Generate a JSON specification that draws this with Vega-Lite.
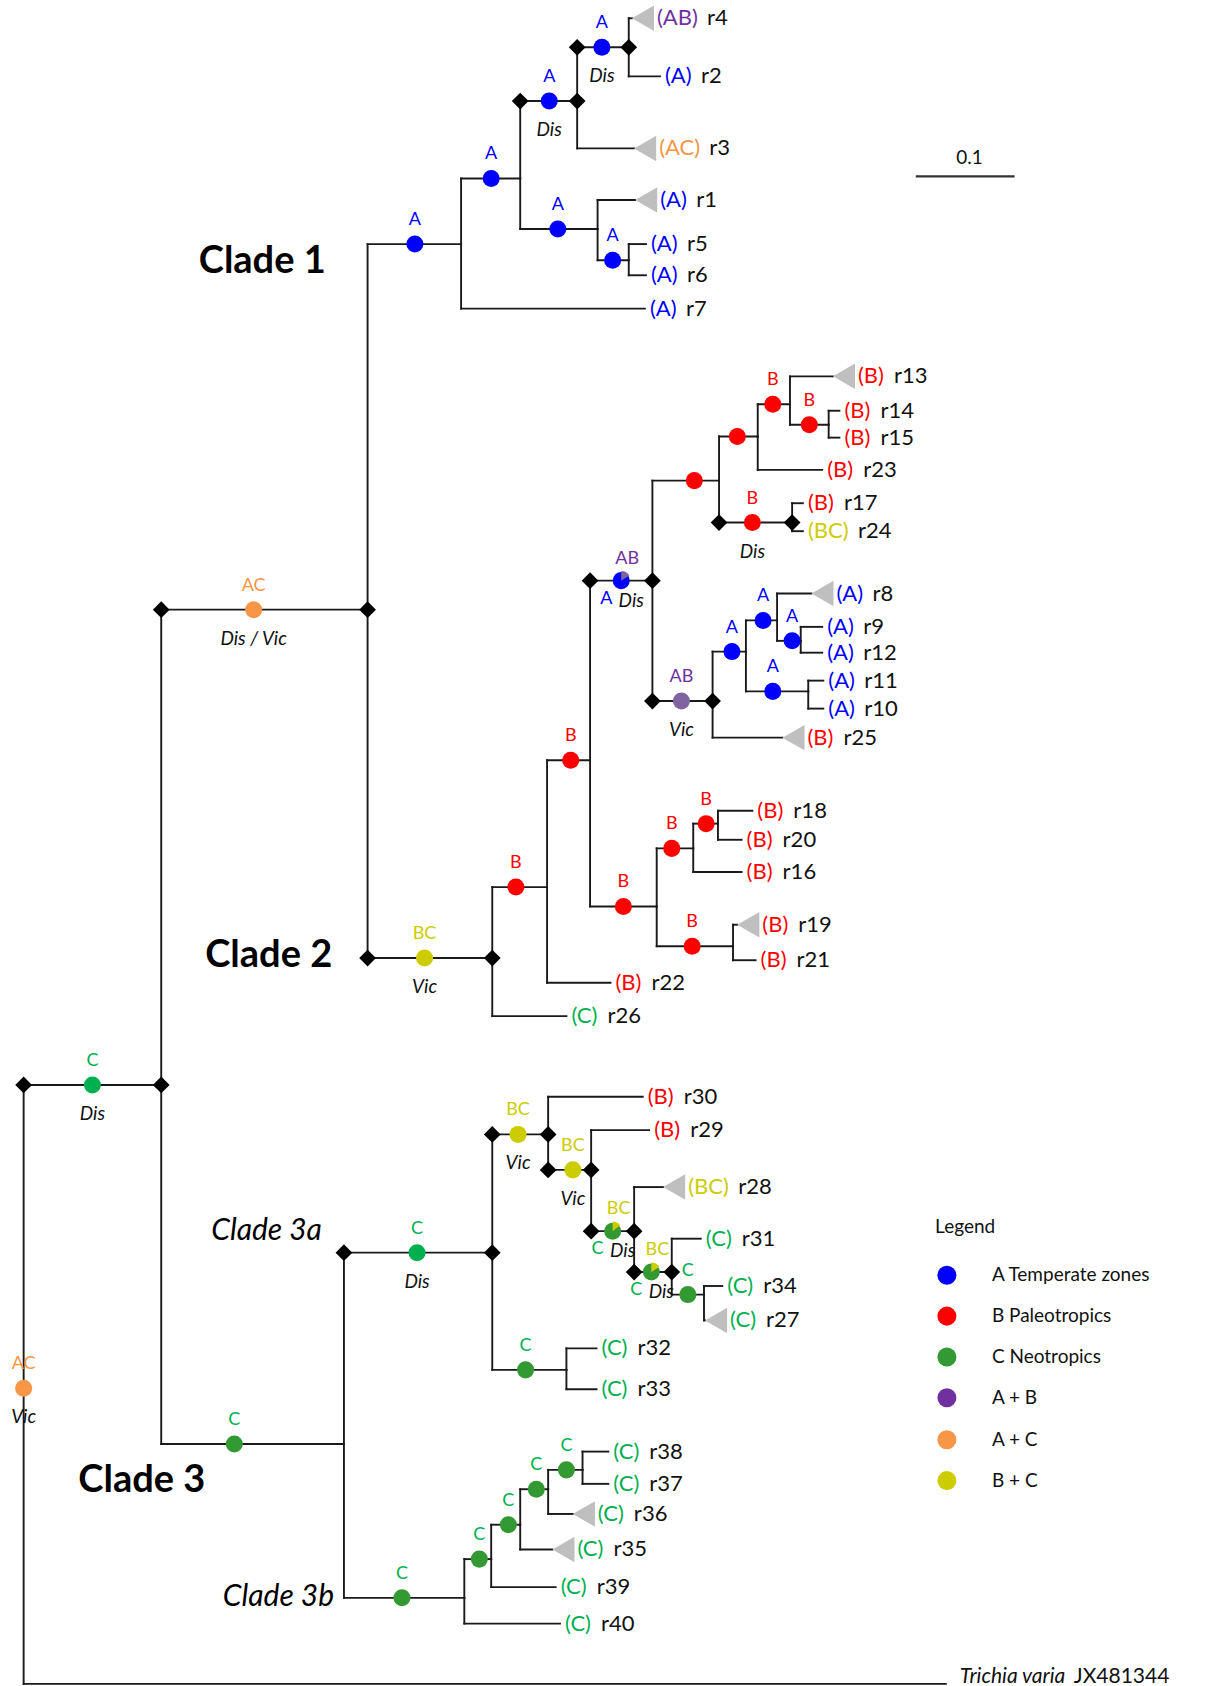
{
"$schema":"https://vega.github.io/schema/vega-lite/v6.json",
"width":1207,"height":1686,"padding":0,"autosize":{"type":"none"},
"config":{"font":"Lato","view":{"stroke":null}},
"datasets":{
"nodes":[
{"id":"root","x":22,"y":1291,"cx":22,"st":"AC","lab":"AC","ev":"Vic"},
{"id":"out","p":"root","x":880,"y":1566,"sp":"Trichia varia","acc":"JX481344"},
{"id":"ing","p":"root","x":150,"y":1009,"cx":86,"st":"C","lab":"C","ev":"Dis"},
{"id":"c12","p":"ing","x":342,"y":567,"cx":236,"st":"AC","lab":"AC","ev":"Dis / Vic"},
{"id":"c1","p":"c12","x":429,"y":227,"cx":386,"st":"A","lab":"A"},
{"id":"n1a","p":"c1","x":484,"y":166,"cx":457,"st":"A","lab":"A"},
{"id":"n1b","p":"n1a","x":537,"y":94,"cx":511,"st":"A","lab":"A","ev":"Dis"},
{"id":"n1c","p":"n1b","x":585,"y":44,"cx":560,"st":"A","lab":"A","ev":"Dis"},
{"id":"r4","p":"n1c","x":588,"y":17,"tag":"(AB)","name":"r4","tri":true},
{"id":"r2","p":"n1c","x":614,"y":71,"tag":"(A)","name":"r2"},
{"id":"r3","p":"n1b","x":590,"y":138,"tag":"(AC)","name":"r3","tri":true},
{"id":"n1d","p":"n1a","x":556,"y":213,"cx":519,"st":"A","lab":"A"},
{"id":"r1","p":"n1d","x":591,"y":186,"tag":"(A)","name":"r1","tri":true},
{"id":"n1e","p":"n1d","x":585,"y":242,"cx":570,"st":"A","lab":"A"},
{"id":"r5","p":"n1e","x":601,"y":227,"tag":"(A)","name":"r5"},
{"id":"r6","p":"n1e","x":601,"y":256,"tag":"(A)","name":"r6"},
{"id":"r7","p":"c1","x":600,"y":287,"tag":"(A)","name":"r7"},
{"id":"c2","p":"c12","x":458,"y":891,"cx":395,"st":"BC","lab":"BC","ev":"Vic"},
{"id":"r26","p":"c2","x":527,"y":945,"tag":"(C)","name":"r26"},
{"id":"n2a","p":"c2","x":509,"y":825,"cx":480,"st":"B","lab":"B"},
{"id":"r22","p":"n2a","x":568,"y":914,"tag":"(B)","name":"r22"},
{"id":"n2b","p":"n2a","x":549,"y":707,"cx":531,"st":"B","lab":"B"},
{"id":"n2c","p":"n2b","x":607,"y":540,"cx":578,"st":"A","lab":"AB","lab2":"A","ev":"Dis","pie":true},
{"id":"n2d","p":"n2c","x":669,"y":447,"cx":646,"st":"B"},
{"id":"n2e","p":"n2d","x":705,"y":406,"cx":686,"st":"B"},
{"id":"n2f","p":"n2e","x":735,"y":376,"cx":719,"st":"B","lab":"B"},
{"id":"r13","p":"n2f","x":775,"y":350,"tag":"(B)","name":"r13","tri":true},
{"id":"n2g","p":"n2f","x":771,"y":395,"cx":753,"st":"B","lab":"B"},
{"id":"r14","p":"n2g","x":781,"y":382,"tag":"(B)","name":"r14"},
{"id":"r15","p":"n2g","x":781,"y":407,"tag":"(B)","name":"r15"},
{"id":"r23","p":"n2e","x":765,"y":437,"tag":"(B)","name":"r23"},
{"id":"n2h","p":"n2d","x":737,"y":486,"cx":700,"st":"B","lab":"B","ev":"Dis"},
{"id":"r17","p":"n2h","x":747,"y":468,"tag":"(B)","name":"r17"},
{"id":"r24","p":"n2h","x":747,"y":494,"tag":"(BC)","name":"r24"},
{"id":"n2i","p":"n2c","x":663,"y":652,"cx":634,"st":"ABl","lab":"AB","ev":"Vic"},
{"id":"n2j","p":"n2i","x":694,"y":606,"cx":681,"st":"A","lab":"A"},
{"id":"n2k","p":"n2j","x":723,"y":577,"cx":710,"st":"A","lab":"A"},
{"id":"r8","p":"n2k","x":755,"y":552,"tag":"(A)","name":"r8","tri":true},
{"id":"n2l","p":"n2k","x":745,"y":596,"cx":737,"st":"A","lab":"A"},
{"id":"r9","p":"n2l","x":765,"y":583,"tag":"(A)","name":"r9"},
{"id":"r12","p":"n2l","x":765,"y":607,"tag":"(A)","name":"r12"},
{"id":"n2m","p":"n2j","x":752,"y":643,"cx":719,"st":"A","lab":"A"},
{"id":"r11","p":"n2m","x":766,"y":633,"tag":"(A)","name":"r11"},
{"id":"r10","p":"n2m","x":766,"y":659,"tag":"(A)","name":"r10"},
{"id":"r25","p":"n2i","x":728,"y":686,"tag":"(B)","name":"r25","tri":true},
{"id":"n2n","p":"n2b","x":611,"y":843,"cx":580,"st":"B","lab":"B"},
{"id":"n2o","p":"n2n","x":645,"y":789,"cx":625,"st":"B","lab":"B"},
{"id":"n2p","p":"n2o","x":668,"y":766,"cx":657,"st":"B","lab":"B"},
{"id":"r18","p":"n2p","x":700,"y":754,"tag":"(B)","name":"r18"},
{"id":"r20","p":"n2p","x":690,"y":781,"tag":"(B)","name":"r20"},
{"id":"r16","p":"n2o","x":690,"y":811,"tag":"(B)","name":"r16"},
{"id":"n2q","p":"n2n","x":682,"y":880,"cx":644,"st":"B","lab":"B"},
{"id":"r19","p":"n2q","x":686,"y":860,"tag":"(B)","name":"r19","tri":true},
{"id":"r21","p":"n2q","x":703,"y":893,"tag":"(B)","name":"r21"},
{"id":"c3","p":"ing","x":320,"y":1343,"cx":218,"st":"Cn","lab":"C"},
{"id":"c3a","p":"c3","x":458,"y":1165,"cx":388,"st":"C","lab":"C","ev":"Dis"},
{"id":"n3a","p":"c3a","x":510,"y":1055,"cx":482,"st":"BC","lab":"BC","ev":"Vic"},
{"id":"r30","p":"n3a","x":598,"y":1020,"tag":"(B)","name":"r30"},
{"id":"n3b","p":"n3a","x":550,"y":1088,"cx":533,"st":"BC","lab":"BC","ev":"Vic"},
{"id":"r29","p":"n3b","x":604,"y":1051,"tag":"(B)","name":"r29"},
{"id":"n3c","p":"n3b","x":590,"y":1145,"cx":570,"st":"Cn","lab":"BC","lab2":"C","ev":"Dis","pie":true},
{"id":"r28","p":"n3c","x":617,"y":1104,"tag":"(BC)","name":"r28","tri":true},
{"id":"n3d","p":"n3c","x":625,"y":1183,"cx":606,"st":"Cn","lab":"BC","lab2":"C","ev":"Dis","pie":true},
{"id":"r31","p":"n3d","x":652,"y":1152,"tag":"(C)","name":"r31"},
{"id":"n3e","p":"n3d","x":655,"y":1204,"cx":640,"st":"Cn","lab":"C"},
{"id":"r34","p":"n3e","x":672,"y":1196,"tag":"(C)","name":"r34"},
{"id":"r27","p":"n3e","x":656,"y":1228,"tag":"(C)","name":"r27","tri":true},
{"id":"n3f","p":"c3a","x":527,"y":1274,"cx":489,"st":"Cn","lab":"C"},
{"id":"r32","p":"n3f","x":555,"y":1254,"tag":"(C)","name":"r32"},
{"id":"r33","p":"n3f","x":555,"y":1292,"tag":"(C)","name":"r33"},
{"id":"c3b","p":"c3","x":432,"y":1486,"cx":374,"st":"Cn","lab":"C"},
{"id":"r40","p":"c3b","x":521,"y":1510,"tag":"(C)","name":"r40"},
{"id":"n3g","p":"c3b","x":457,"y":1450,"cx":446,"st":"Cn","lab":"C"},
{"id":"r39","p":"n3g","x":517,"y":1476,"tag":"(C)","name":"r39"},
{"id":"n3h","p":"n3g","x":484,"y":1418,"cx":473,"st":"Cn","lab":"C"},
{"id":"r35","p":"n3h","x":514,"y":1441,"tag":"(C)","name":"r35","tri":true},
{"id":"n3i","p":"n3h","x":510,"y":1385,"cx":499,"st":"Cn","lab":"C"},
{"id":"r36","p":"n3i","x":533,"y":1408,"tag":"(C)","name":"r36","tri":true},
{"id":"n3j","p":"n3i","x":542,"y":1367,"cx":527,"st":"Cn","lab":"C"},
{"id":"r38","p":"n3j","x":566,"y":1350,"tag":"(C)","name":"r38"},
{"id":"r37","p":"n3j","x":566,"y":1380,"tag":"(C)","name":"r37"}
],
"slices":[
{"x":578,"y":540,"st":"ABl","a0":0,"a1":1.0},
{"x":570,"y":1145,"st":"BC","a0":0,"a1":0.9},
{"x":606,"y":1183,"st":"BC","a0":0,"a1":1.0}
],
"notes":[
{"text":"Clade 1","x":244,"y":244,"style":"bold"},
{"text":"Clade 2","x":250,"y":889,"style":"bold"},
{"text":"Clade 3","x":132,"y":1377,"style":"bold"},
{"text":"Clade 3a","x":248,"y":1145,"style":"italic"},
{"text":"Clade 3b","x":259,"y":1485,"style":"italic"},
{"text":"Legend","x":898,"y":1141,"style":"plain"},
{"text":"0.1","x":902,"y":147,"style":"plain"}
],
"scalebar":[{"x":852,"x2":944,"y":164}],
"legend":[
{"x":881,"y":1186,"st":"A","text":"A Temperate zones"},
{"x":881,"y":1224,"st":"B","text":"B  Paleotropics"},
{"x":881,"y":1262,"st":"Cn","text":"C  Neotropics"},
{"x":881,"y":1300,"st":"AB","text":"A + B"},
{"x":881,"y":1339,"st":"AC","text":"A + C"},
{"x":881,"y":1377,"st":"BC","text":"B + C"}
]
},
"layer":[
{"data":{"name":"nodes"},
 "transform":[{"lookup":"p","from":{"data":{"name":"nodes"},"key":"id","fields":["x","y"]},"as":["px","py"]},{"filter":"isValid(datum.px)"}],
 "mark":{"type":"rule","color":"#1a1a1a","strokeWidth":1.9,"strokeCap":"square"},
 "encoding":{"x":{"field":"px","type":"quantitative","scale":{"domain":[0,1123],"nice":false,"zero":false},"axis":null},"x2":{"field":"x"},
  "y":{"field":"y","type":"quantitative","scale":{"domain":[0,1568],"nice":false,"zero":false,"reverse":true},"axis":null}}},
{"data":{"name":"nodes"},
 "transform":[{"lookup":"p","from":{"data":{"name":"nodes"},"key":"id","fields":["x","y"]},"as":["px","py"]},{"filter":"isValid(datum.px)"}],
 "mark":{"type":"rule","color":"#1a1a1a","strokeWidth":1.9,"strokeCap":"square"},
 "encoding":{"x":{"field":"px","type":"quantitative","scale":{"domain":[0,1123],"nice":false,"zero":false},"axis":null},
  "y":{"field":"py","type":"quantitative","scale":{"domain":[0,1568],"nice":false,"zero":false,"reverse":true},"axis":null},"y2":{"field":"y"}}},
{"data":{"name":"scalebar"},
 "mark":{"type":"rule","color":"#333333","strokeWidth":2.4},
 "encoding":{"x":{"field":"x","type":"quantitative","scale":{"domain":[0,1123],"nice":false,"zero":false},"axis":null},"x2":{"field":"x2"},
  "y":{"field":"y","type":"quantitative","scale":{"domain":[0,1568],"nice":false,"zero":false,"reverse":true},"axis":null}}},
{"data":{"name":"nodes"},
 "transform":[{"lookup":"p","from":{"data":{"name":"nodes"},"key":"id","fields":["x","y"]},"as":["px","py"]},{"filter":"isValid(datum.px) && isValid(datum.ev)"},{"fold":["px","x"],"as":["k","dv"]}],
 "mark":{"type":"point","shape":"diamond","filled":true,"color":"#000000","opacity":1,"size":280},
 "encoding":{"x":{"field":"dv","type":"quantitative","scale":{"domain":[0,1123],"nice":false,"zero":false},"axis":null},
  "y":{"field":"y","type":"quantitative","scale":{"domain":[0,1568],"nice":false,"zero":false,"reverse":true},"axis":null}}},
{"data":{"name":"nodes"},
 "transform":[{"filter":"isValid(datum.cx)"}],
 "mark":{"type":"point","shape":"circle","filled":true,"opacity":1,"size":290},
 "encoding":{"x":{"field":"cx","type":"quantitative","scale":{"domain":[0,1123],"nice":false,"zero":false},"axis":null},
  "y":{"field":"y","type":"quantitative","scale":{"domain":[0,1568],"nice":false,"zero":false,"reverse":true},"axis":null},
  "color":{"field":"st","type":"nominal","legend":null,"scale":{"domain":["A","B","C","Cn","AB","ABl","AC","BC","(A)","(B)","(C)","(AB)","(AC)","(BC)"],"range":["#0000FF","#FF0000","#00B050","#339933","#7030A0","#8064A2","#F79646","#CCCC00","#0000FF","#FF0000","#00B050","#7030A0","#F79646","#CCCC00"]}}}},
{"data":{"name":"slices"},
 "mark":{"type":"arc","outerRadius":9.6,"innerRadius":0},
 "encoding":{"x":{"field":"x","type":"quantitative","scale":{"domain":[0,1123],"nice":false,"zero":false},"axis":null},
  "y":{"field":"y","type":"quantitative","scale":{"domain":[0,1568],"nice":false,"zero":false,"reverse":true},"axis":null},
  "theta":{"field":"a0","type":"quantitative","scale":null,"stack":null},"theta2":{"field":"a1"},
  "color":{"field":"st","type":"nominal","legend":null,"scale":{"domain":["A","B","C","Cn","AB","ABl","AC","BC","(A)","(B)","(C)","(AB)","(AC)","(BC)"],"range":["#0000FF","#FF0000","#00B050","#339933","#7030A0","#8064A2","#F79646","#CCCC00","#0000FF","#FF0000","#00B050","#7030A0","#F79646","#CCCC00"]}}}},
{"data":{"name":"nodes"},
 "transform":[{"filter":"datum.tri"}],
 "mark":{"type":"point","shape":"triangle-left","filled":true,"color":"#BFBFBF","opacity":1,"size":650,"xOffset":11},
 "encoding":{"x":{"field":"x","type":"quantitative","scale":{"domain":[0,1123],"nice":false,"zero":false},"axis":null},
  "y":{"field":"y","type":"quantitative","scale":{"domain":[0,1568],"nice":false,"zero":false,"reverse":true},"axis":null}}},
{"data":{"name":"nodes"},
 "transform":[{"filter":"isValid(datum.lab) && !datum.pie"}],
 "mark":{"type":"text","fontSize":18,"dy":-24,"align":"center","baseline":"middle"},
 "encoding":{"x":{"field":"cx","type":"quantitative","scale":{"domain":[0,1123],"nice":false,"zero":false},"axis":null},
  "y":{"field":"y","type":"quantitative","scale":{"domain":[0,1568],"nice":false,"zero":false,"reverse":true},"axis":null},
  "text":{"field":"lab"},
  "color":{"field":"lab","type":"nominal","legend":null,"scale":{"domain":["A","B","C","Cn","AB","ABl","AC","BC","(A)","(B)","(C)","(AB)","(AC)","(BC)"],"range":["#0000FF","#FF0000","#00B050","#339933","#7030A0","#8064A2","#F79646","#CCCC00","#0000FF","#FF0000","#00B050","#7030A0","#F79646","#CCCC00"]}}}},
{"data":{"name":"nodes"},
 "transform":[{"filter":"datum.pie"}],
 "mark":{"type":"text","fontSize":18,"dx":6,"dy":-22,"align":"center","baseline":"middle"},
 "encoding":{"x":{"field":"cx","type":"quantitative","scale":{"domain":[0,1123],"nice":false,"zero":false},"axis":null},
  "y":{"field":"y","type":"quantitative","scale":{"domain":[0,1568],"nice":false,"zero":false,"reverse":true},"axis":null},
  "text":{"field":"lab"},
  "color":{"field":"lab","type":"nominal","legend":null,"scale":{"domain":["A","B","C","Cn","AB","ABl","AC","BC","(A)","(B)","(C)","(AB)","(AC)","(BC)"],"range":["#0000FF","#FF0000","#00B050","#339933","#7030A0","#8064A2","#F79646","#CCCC00","#0000FF","#FF0000","#00B050","#7030A0","#F79646","#CCCC00"]}}}},
{"data":{"name":"nodes"},
 "transform":[{"filter":"isValid(datum.lab2)"}],
 "mark":{"type":"text","fontSize":18,"dx":-15,"dy":18,"align":"center","baseline":"middle"},
 "encoding":{"x":{"field":"cx","type":"quantitative","scale":{"domain":[0,1123],"nice":false,"zero":false},"axis":null},
  "y":{"field":"y","type":"quantitative","scale":{"domain":[0,1568],"nice":false,"zero":false,"reverse":true},"axis":null},
  "text":{"field":"lab2"},
  "color":{"field":"lab2","type":"nominal","legend":null,"scale":{"domain":["A","B","C","Cn","AB","ABl","AC","BC","(A)","(B)","(C)","(AB)","(AC)","(BC)"],"range":["#0000FF","#FF0000","#00B050","#339933","#7030A0","#8064A2","#F79646","#CCCC00","#0000FF","#FF0000","#00B050","#7030A0","#F79646","#CCCC00"]}}}},
{"data":{"name":"nodes"},
 "transform":[{"filter":"isValid(datum.ev) && !datum.pie"}],
 "mark":{"type":"text","fontSize":19,"fontStyle":"italic","dy":29,"align":"center","baseline":"middle","color":"#111111"},
 "encoding":{"x":{"field":"cx","type":"quantitative","scale":{"domain":[0,1123],"nice":false,"zero":false},"axis":null},
  "y":{"field":"y","type":"quantitative","scale":{"domain":[0,1568],"nice":false,"zero":false,"reverse":true},"axis":null},
  "text":{"field":"ev"}}},
{"data":{"name":"nodes"},
 "transform":[{"filter":"isValid(datum.ev) && datum.pie"}],
 "mark":{"type":"text","fontSize":19,"fontStyle":"italic","dx":10,"dy":20,"align":"center","baseline":"middle","color":"#111111"},
 "encoding":{"x":{"field":"cx","type":"quantitative","scale":{"domain":[0,1123],"nice":false,"zero":false},"axis":null},
  "y":{"field":"y","type":"quantitative","scale":{"domain":[0,1568],"nice":false,"zero":false,"reverse":true},"axis":null},
  "text":{"field":"ev"}}},
{"data":{"name":"nodes"},
 "transform":[{"filter":"isValid(datum.tag) && !datum.tri"}],
 "mark":{"type":"text","fontSize":22,"dx":5,"align":"left","baseline":"middle"},
 "encoding":{"x":{"field":"x","type":"quantitative","scale":{"domain":[0,1123],"nice":false,"zero":false},"axis":null},
  "y":{"field":"y","type":"quantitative","scale":{"domain":[0,1568],"nice":false,"zero":false,"reverse":true},"axis":null},
  "text":{"field":"tag"},
  "color":{"field":"tag","type":"nominal","legend":null,"scale":{"domain":["A","B","C","Cn","AB","ABl","AC","BC","(A)","(B)","(C)","(AB)","(AC)","(BC)"],"range":["#0000FF","#FF0000","#00B050","#339933","#7030A0","#8064A2","#F79646","#CCCC00","#0000FF","#FF0000","#00B050","#7030A0","#F79646","#CCCC00"]}}}},
{"data":{"name":"nodes"},
 "transform":[{"filter":"isValid(datum.tag) && datum.tri"}],
 "mark":{"type":"text","fontSize":22,"dx":25,"align":"left","baseline":"middle"},
 "encoding":{"x":{"field":"x","type":"quantitative","scale":{"domain":[0,1123],"nice":false,"zero":false},"axis":null},
  "y":{"field":"y","type":"quantitative","scale":{"domain":[0,1568],"nice":false,"zero":false,"reverse":true},"axis":null},
  "text":{"field":"tag"},
  "color":{"field":"tag","type":"nominal","legend":null,"scale":{"domain":["A","B","C","Cn","AB","ABl","AC","BC","(A)","(B)","(C)","(AB)","(AC)","(BC)"],"range":["#0000FF","#FF0000","#00B050","#339933","#7030A0","#8064A2","#F79646","#CCCC00","#0000FF","#FF0000","#00B050","#7030A0","#F79646","#CCCC00"]}}}},
{"data":{"name":"nodes"},
 "transform":[{"filter":"isValid(datum.tag) && !datum.tri && length(datum.tag) == 3"}],
 "mark":{"type":"text","fontSize":22,"dx":41,"align":"left","baseline":"middle","color":"#111111"},
 "encoding":{"x":{"field":"x","type":"quantitative","scale":{"domain":[0,1123],"nice":false,"zero":false},"axis":null},
  "y":{"field":"y","type":"quantitative","scale":{"domain":[0,1568],"nice":false,"zero":false,"reverse":true},"axis":null},
  "text":{"field":"name"}}},
{"data":{"name":"nodes"},
 "transform":[{"filter":"isValid(datum.tag) && !datum.tri && length(datum.tag) == 4"}],
 "mark":{"type":"text","fontSize":22,"dx":55,"align":"left","baseline":"middle","color":"#111111"},
 "encoding":{"x":{"field":"x","type":"quantitative","scale":{"domain":[0,1123],"nice":false,"zero":false},"axis":null},
  "y":{"field":"y","type":"quantitative","scale":{"domain":[0,1568],"nice":false,"zero":false,"reverse":true},"axis":null},
  "text":{"field":"name"}}},
{"data":{"name":"nodes"},
 "transform":[{"filter":"isValid(datum.tag) && datum.tri && length(datum.tag) == 3"}],
 "mark":{"type":"text","fontSize":22,"dx":61,"align":"left","baseline":"middle","color":"#111111"},
 "encoding":{"x":{"field":"x","type":"quantitative","scale":{"domain":[0,1123],"nice":false,"zero":false},"axis":null},
  "y":{"field":"y","type":"quantitative","scale":{"domain":[0,1568],"nice":false,"zero":false,"reverse":true},"axis":null},
  "text":{"field":"name"}}},
{"data":{"name":"nodes"},
 "transform":[{"filter":"isValid(datum.tag) && datum.tri && length(datum.tag) == 4"}],
 "mark":{"type":"text","fontSize":22,"dx":75,"align":"left","baseline":"middle","color":"#111111"},
 "encoding":{"x":{"field":"x","type":"quantitative","scale":{"domain":[0,1123],"nice":false,"zero":false},"axis":null},
  "y":{"field":"y","type":"quantitative","scale":{"domain":[0,1568],"nice":false,"zero":false,"reverse":true},"axis":null},
  "text":{"field":"name"}}},
{"data":{"name":"nodes"},
 "transform":[{"filter":"isValid(datum.sp)"}],
 "mark":{"type":"text","fontSize":21,"fontStyle":"italic","dx":14,"dy":-7,"align":"left","baseline":"middle","color":"#111111"},
 "encoding":{"x":{"field":"x","type":"quantitative","scale":{"domain":[0,1123],"nice":false,"zero":false},"axis":null},
  "y":{"field":"y","type":"quantitative","scale":{"domain":[0,1568],"nice":false,"zero":false,"reverse":true},"axis":null},
  "text":{"field":"sp"}}},
{"data":{"name":"nodes"},
 "transform":[{"filter":"isValid(datum.acc)"}],
 "mark":{"type":"text","fontSize":21,"dx":128,"dy":-7,"align":"left","baseline":"middle","color":"#111111"},
 "encoding":{"x":{"field":"x","type":"quantitative","scale":{"domain":[0,1123],"nice":false,"zero":false},"axis":null},
  "y":{"field":"y","type":"quantitative","scale":{"domain":[0,1568],"nice":false,"zero":false,"reverse":true},"axis":null},
  "text":{"field":"acc"}}},
{"data":{"name":"notes"},
 "transform":[{"filter":"datum.style == 'bold'"}],
 "mark":{"type":"text","fontSize":38,"fontWeight":"bold","align":"center","baseline":"middle","color":"#000000"},
 "encoding":{"x":{"field":"x","type":"quantitative","scale":{"domain":[0,1123],"nice":false,"zero":false},"axis":null},
  "y":{"field":"y","type":"quantitative","scale":{"domain":[0,1568],"nice":false,"zero":false,"reverse":true},"axis":null},
  "text":{"field":"text"}}},
{"data":{"name":"notes"},
 "transform":[{"filter":"datum.style == 'italic'"}],
 "mark":{"type":"text","fontSize":30,"fontStyle":"italic","align":"center","baseline":"middle","color":"#000000"},
 "encoding":{"x":{"field":"x","type":"quantitative","scale":{"domain":[0,1123],"nice":false,"zero":false},"axis":null},
  "y":{"field":"y","type":"quantitative","scale":{"domain":[0,1568],"nice":false,"zero":false,"reverse":true},"axis":null},
  "text":{"field":"text"}}},
{"data":{"name":"notes"},
 "transform":[{"filter":"datum.style == 'plain'"}],
 "mark":{"type":"text","fontSize":19,"align":"center","baseline":"middle","color":"#111111"},
 "encoding":{"x":{"field":"x","type":"quantitative","scale":{"domain":[0,1123],"nice":false,"zero":false},"axis":null},
  "y":{"field":"y","type":"quantitative","scale":{"domain":[0,1568],"nice":false,"zero":false,"reverse":true},"axis":null},
  "text":{"field":"text"}}},
{"data":{"name":"legend"},
 "mark":{"type":"point","shape":"circle","filled":true,"opacity":1,"size":363},
 "encoding":{"x":{"field":"x","type":"quantitative","scale":{"domain":[0,1123],"nice":false,"zero":false},"axis":null},
  "y":{"field":"y","type":"quantitative","scale":{"domain":[0,1568],"nice":false,"zero":false,"reverse":true},"axis":null},
  "color":{"field":"st","type":"nominal","legend":null,"scale":{"domain":["A","B","C","Cn","AB","ABl","AC","BC","(A)","(B)","(C)","(AB)","(AC)","(BC)"],"range":["#0000FF","#FF0000","#00B050","#339933","#7030A0","#8064A2","#F79646","#CCCC00","#0000FF","#FF0000","#00B050","#7030A0","#F79646","#CCCC00"]}}}},
{"data":{"name":"legend"},
 "mark":{"type":"text","fontSize":19,"dx":45,"align":"left","baseline":"middle","color":"#111111"},
 "encoding":{"x":{"field":"x","type":"quantitative","scale":{"domain":[0,1123],"nice":false,"zero":false},"axis":null},
  "y":{"field":"y","type":"quantitative","scale":{"domain":[0,1568],"nice":false,"zero":false,"reverse":true},"axis":null},
  "text":{"field":"text"}}}
]
}
